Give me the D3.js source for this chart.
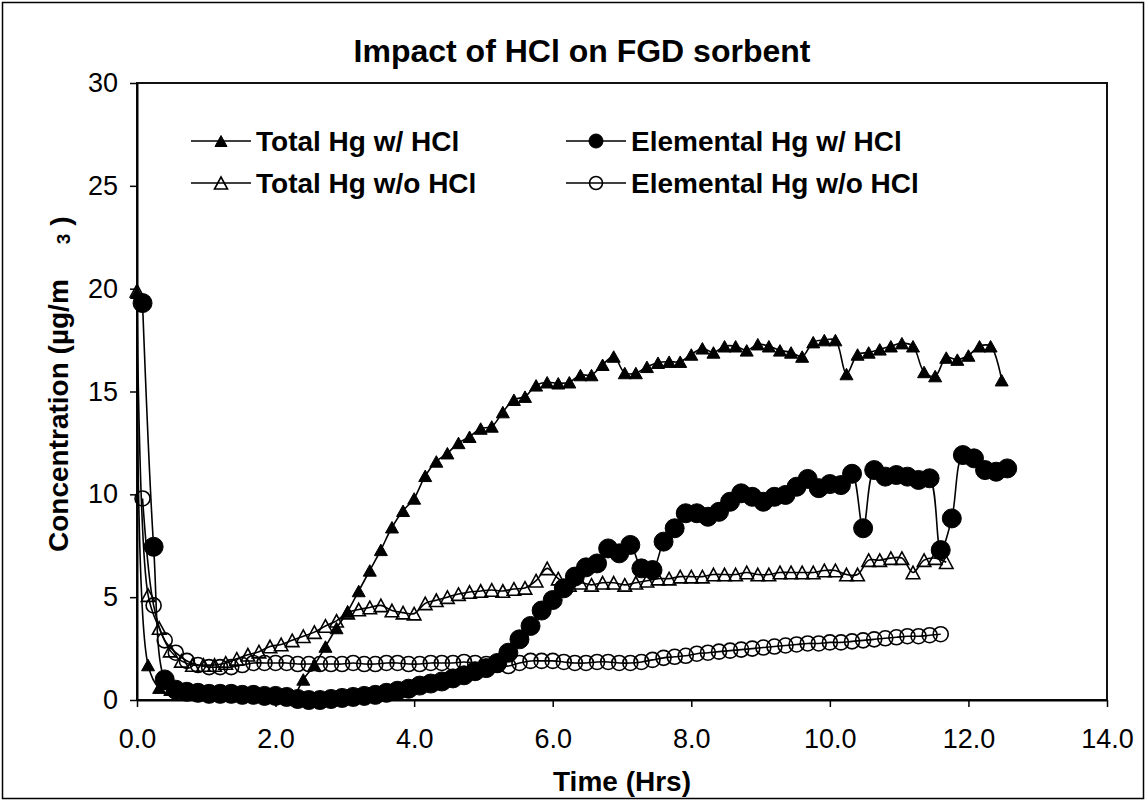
<!DOCTYPE html>
<html>
<head>
<meta charset="utf-8">
<script src="https://cdnjs.cloudflare.com/ajax/libs/d3/7.8.5/d3.min.js"></script>
<style>
  body { margin: 0; background: #fff; }
  svg { display: block; font-family: "Liberation Sans", Arial, sans-serif; }
</style>
</head>
<body>
<svg id="chart" width="1146" height="801"></svg>
<script>
// sample times (hrs) of the analyser: total readings and elemental readings alternate
const timeTotal = [0.00, 0.16, 0.32, 0.48, 0.64, 0.80, 0.96, 1.12, 1.28, 1.44, 1.60, 1.76, 1.92, 2.08, 2.24, 2.40,
  2.56, 2.72, 2.88, 3.04, 3.20, 3.36, 3.52, 3.68, 3.84, 4.00, 4.16, 4.32, 4.48, 4.64, 4.80, 4.96, 5.12, 5.28,
  5.44, 5.60, 5.76, 5.92, 6.08, 6.24, 6.40, 6.56, 6.72, 6.88, 7.04, 7.20, 7.36, 7.52, 7.68, 7.84, 8.00, 8.16,
  8.32, 8.48, 8.64, 8.80, 8.96, 9.12, 9.28, 9.44, 9.60, 9.76, 9.92, 10.08, 10.24, 10.40, 10.56, 10.72, 10.88,
  11.04, 11.20, 11.36, 11.52, 11.68, 11.84, 12.00, 12.16, 12.32, 12.48];
const timeElemental = [0.08, 0.24, 0.40, 0.56, 0.72, 0.88, 1.04, 1.20, 1.36, 1.52, 1.68, 1.84, 2.00, 2.16, 2.32,
  2.48, 2.64, 2.80, 2.96, 3.12, 3.28, 3.44, 3.60, 3.76, 3.92, 4.08, 4.24, 4.40, 4.56, 4.72, 4.88, 5.04, 5.20,
  5.36, 5.52, 5.68, 5.84, 6.00, 6.16, 6.32, 6.48, 6.64, 6.80, 6.96, 7.12, 7.28, 7.44, 7.60, 7.76, 7.92, 8.08,
  8.24, 8.40, 8.56, 8.72, 8.88, 9.04, 9.20, 9.36, 9.52, 9.68, 9.84, 10.00, 10.16, 10.32, 10.48, 10.64, 10.80,
  10.96, 11.12, 11.28, 11.44, 11.60, 11.76, 11.92, 12.08, 12.24, 12.40, 12.56];

// concentrations (ug/m3)
const totalWithHCl = [19.8, 1.7, 0.6, 0.5, 0.4, 0.3, 0.3, 0.3, 0.2, 0.2, 0.2, 0.2, 0.1, 0.1, 0.1, 1.0,
  1.7, 2.6, 3.5, 4.3, 5.3, 6.3, 7.3, 8.4, 9.2, 9.8, 10.9, 11.6, 12.0, 12.5, 12.8, 13.2, 13.3, 14.0, 14.6,
  14.75, 15.3, 15.45, 15.4, 15.45, 15.8, 15.8, 16.3, 16.7, 15.9, 15.9, 16.2, 16.4, 16.45, 16.45, 16.8, 17.1,
  16.9, 17.2, 17.2, 17.0, 17.3, 17.2, 17.0, 16.9, 16.7, 17.4, 17.5, 17.5, 15.85, 16.8, 16.9, 17.05, 17.2,
  17.35, 17.2, 15.95, 15.75, 16.65, 16.55, 16.75, 17.2, 17.2, 15.55];
const elementalWithHCl = [19.3, 7.45, 1.0, 0.5, 0.4, 0.35, 0.3, 0.3, 0.3, 0.25, 0.25, 0.2, 0.2, 0.15, 0.05,
  0.0, 0.0, 0.05, 0.1, 0.15, 0.2, 0.25, 0.35, 0.45, 0.55, 0.7, 0.8, 0.9, 1.05, 1.2, 1.4, 1.55, 1.8, 2.3, 2.95,
  3.6, 4.35, 4.86, 5.43, 6.0, 6.45, 6.64, 7.37, 7.13, 7.54, 6.4, 6.32, 7.7, 8.35, 9.08, 9.08, 8.91, 9.15,
  9.64, 10.05, 9.88, 9.64, 9.88, 9.97, 10.37, 10.75, 10.3, 10.5, 10.45, 11.0, 8.35, 11.18, 10.86, 10.94,
  10.86, 10.7, 10.78, 7.29, 8.83, 11.91, 11.75, 11.18, 11.1, 11.26];
const totalWithoutHCl = [19.9, 5.1, 3.5, 2.4, 1.9, 1.7, 1.7, 1.7, 1.8, 2.0, 2.2, 2.35, 2.6, 2.7, 2.9, 3.1,
  3.3, 3.6, 3.85, 4.25, 4.4, 4.5, 4.6, 4.35, 4.25, 4.2, 4.7, 4.85, 5.0, 5.15, 5.25, 5.3, 5.35, 5.3, 5.4,
  5.45, 5.8, 6.4, 5.9, 5.6, 5.7, 5.6, 5.7, 5.7, 5.6, 5.7, 5.8, 5.9, 5.9, 6.0, 6.0, 6.0, 6.1, 6.1, 6.1, 6.2,
  6.1, 6.1, 6.2, 6.2, 6.2, 6.2, 6.3, 6.3, 6.1, 6.1, 6.8, 6.8, 6.9, 6.9, 6.2, 6.8, 6.9, 6.7];
const elementalWithoutHCl = [9.8, 4.6, 2.9, 2.3, 1.9, 1.7, 1.6, 1.6, 1.6, 1.7, 1.8, 1.8, 1.8, 1.8, 1.75,
  1.75, 1.75, 1.75, 1.75, 1.8, 1.75, 1.75, 1.8, 1.8, 1.75, 1.75, 1.8, 1.8, 1.8, 1.85, 1.8, 1.75, 1.7, 1.65,
  1.8, 1.9, 1.9, 1.9, 1.85, 1.8, 1.8, 1.85, 1.85, 1.8, 1.8, 1.85, 1.95, 2.05, 2.1, 2.15, 2.25, 2.3, 2.35,
  2.4, 2.45, 2.5, 2.55, 2.6, 2.65, 2.7, 2.75, 2.75, 2.8, 2.8, 2.85, 2.9, 2.95, 3.0, 3.05, 3.1, 3.1, 3.15, 3.2];

const seriesNames = ["Total Hg w/ HCl", "Elemental Hg w/ HCl", "Total Hg w/o HCl", "Elemental Hg w/o HCl"];
const xTicks = [0, 2, 4, 6, 8, 10, 12, 14];
const yTicks = [0, 5, 10, 15, 20, 25, 30];

const series = [
  { name: seriesNames[0], t: timeTotal, v: totalWithHCl, marker: "triFilled" },
  { name: seriesNames[1], t: timeElemental, v: elementalWithHCl, marker: "dotFilled" },
  { name: seriesNames[2], t: timeTotal, v: totalWithoutHCl, marker: "triOpen" },
  { name: seriesNames[3], t: timeElemental, v: elementalWithoutHCl, marker: "dotOpen" }
];

const W = 1146, H = 801;
const plot = { left: 137, right: 1107, top: 83, bottom: 700 };

const svg = d3.select("#chart");

svg.append("rect")
  .attr("x", 2.5).attr("y", 2.5)
  .attr("width", W - 5).attr("height", H - 5)
  .attr("fill", "#fff").attr("stroke", "#000").attr("stroke-width", 1.5);

const x = d3.scaleLinear().domain([0, 14]).range([plot.left, plot.right]);
const y = d3.scaleLinear().domain([0, 30]).range([plot.bottom, plot.top]);

// plot area frame
svg.append("rect")
  .attr("x", plot.left).attr("y", plot.top)
  .attr("width", plot.right - plot.left).attr("height", plot.bottom - plot.top)
  .attr("fill", "none").attr("stroke", "#111").attr("stroke-width", 2);

const yAxis = svg.append("g")
  .attr("transform", `translate(${plot.left},0)`)
  .call(d3.axisLeft(y).tickValues(yTicks).tickSize(7).tickSizeOuter(0).tickPadding(12));

const xAxis = svg.append("g")
  .attr("transform", `translate(0,${plot.bottom})`)
  .call(d3.axisBottom(x).tickValues(xTicks).tickFormat(d3.format(".1f"))
    .tickSize(7).tickSizeOuter(0).tickPadding(22));

[yAxis, xAxis].forEach(g => {
  g.select(".domain").attr("stroke", "#000").attr("stroke-width", 2);
  g.selectAll(".tick line").attr("stroke", "#000").attr("stroke-width", 1.5);
  g.selectAll(".tick text")
    .attr("fill", "#000")
    .style("font-size", "27px")
    .style("font-family", "'Liberation Sans', Arial, sans-serif");
});

// marker shapes
function markerPath(kind, s) {
  if (kind.startsWith("tri")) {
    const w = s.w, h = s.h;
    return `M0,${-h / 2}L${w / 2},${h / 2}L${-w / 2},${h / 2}Z`;
  }
  return d3.arc()({ innerRadius: 0, outerRadius: s.r, startAngle: 0, endAngle: 2 * Math.PI });
}
const chartSize = {
  triFilled: { w: 13, h: 11.5 },
  triOpen: { w: 13.5, h: 12.5 },
  dotFilled: { r: 9.5 },
  dotOpen: { r: 7.5 }
};
const legendSize = {
  triFilled: { w: 12, h: 11 },
  triOpen: { w: 13, h: 12 },
  dotFilled: { r: 7 },
  dotOpen: { r: 6.5 }
};
function styleMarker(sel, kind) {
  const filled = kind.endsWith("Filled");
  sel.attr("fill", filled ? "#000" : "none")
    .attr("stroke", "#000")
    .attr("stroke-width", filled ? 1 : 1.6)
    .attr("stroke-linejoin", "miter");
}

const line = d3.line()
  .x(d => x(d[0]))
  .y(d => y(d[1]))
  .curve(d3.curveCatmullRom.alpha(0.5));

series.forEach(s => {
  const pts = s.v.map((v, i) => [s.t[i], v]);
  const g = svg.append("g").attr("class", "series");
  g.append("path")
    .attr("d", line(pts))
    .attr("fill", "none")
    .attr("stroke", "#000")
    .attr("stroke-width", 1.6);
  g.selectAll("path.mk")
    .data(pts)
    .join("path")
    .attr("class", "mk")
    .attr("d", markerPath(s.marker, chartSize[s.marker]))
    .attr("transform", d => `translate(${x(d[0])},${y(d[1])})`)
    .call(styleMarker, s.marker);
});

// legend (2 columns x 2 rows)
const legendCols = [191, 566];
const legendRows = [141, 183];
const legend = svg.append("g").attr("class", "legend");
series.forEach((s, i) => {
  const lx = legendCols[i % 2];
  const ly = legendRows[Math.floor(i / 2)];
  const g = legend.append("g").attr("transform", `translate(${lx},${ly})`);
  g.append("line")
    .attr("x1", 0).attr("x2", 60).attr("y1", 0).attr("y2", 0)
    .attr("stroke", "#000").attr("stroke-width", 1.6);
  g.append("path")
    .attr("d", markerPath(s.marker, legendSize[s.marker]))
    .attr("transform", "translate(30,0)")
    .call(styleMarker, s.marker);
  g.append("text")
    .attr("x", 65).attr("y", 10)
    .style("font-size", "28px").style("font-weight", "bold")
    .text(s.name);
});

// title
svg.append("text")
  .attr("x", 582).attr("y", 62)
  .attr("text-anchor", "middle")
  .style("font-size", "32px").style("font-weight", "bold")
  .text("Impact of HCl on FGD sorbent");

// axis titles
svg.append("text")
  .attr("x", (plot.left + plot.right) / 2).attr("y", 791)
  .attr("text-anchor", "middle")
  .style("font-size", "28px").style("font-weight", "bold")
  .text("Time (Hrs)");

const yTitle = svg.append("text")
  .attr("transform", "translate(68,552) rotate(-90)")
  .attr("x", 0).attr("y", 0)
  .style("font-size", "28px").style("font-weight", "bold");
yTitle.append("tspan").text("Concentration (µg/m");
yTitle.append("tspan").attr("dx", 35).attr("dy", 2).style("font-size", "19px").text("3");
yTitle.append("tspan").attr("dx", 8).attr("dy", 0).text(")");
</script>
</body>
</html>
